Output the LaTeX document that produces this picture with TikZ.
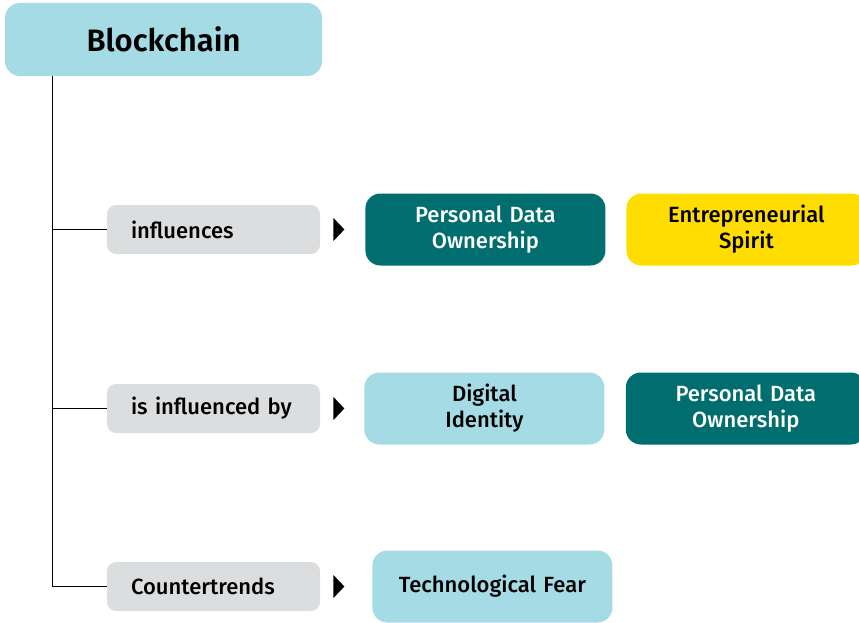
\documentclass[tikz,border=0pt]{standalone}
\usepackage{fontspec}
\setmainfont{Fira Sans}[UprightFont=* Medium, BoldFont=* SemiBold]
\usetikzlibrary{positioning}
\usetikzlibrary{shapes.geometric}

\definecolor{lightteal}{HTML}{A5DBE4}
\definecolor{darkteal}{HTML}{006D6E}
\definecolor{sunyellow}{HTML}{FFDD00}
\definecolor{labelgray}{HTML}{DCDDDF}

\begin{document}
\begin{tikzpicture}[x=1pt, y=-1pt, node distance = 21pt]
    \tikzstyle{root} = [rectangle, fill=lightteal, rounded corners=15pt,
    minimum width=317pt, minimum height=73pt, font=\fontsize{31}{34}\selectfont\bfseries]
    \tikzstyle{relation} = [rectangle, fill=labelgray, rounded corners=9pt,
    minimum width=213pt, minimum height=49pt, text width=165pt, align=left,
    inner xsep=24pt, font=\fontsize{22}{26}\selectfont]
    \tikzstyle{result} = [rectangle, rounded corners=15pt, minimum width=240pt,
    minimum height=72pt, text width=230pt, align=center,
    font=\fontsize{22}{26}\selectfont]
    \tikzstyle{pointer} = [isosceles triangle, isosceles triangle stretches,
    fill=black, inner sep=0pt, minimum width=23pt, minimum height=11pt]
    \tikzstyle{line} = [draw, line width=0.8pt]
    \useasboundingbox (0,0) rectangle (859,623);
    \node [root] (blockchain) at (163.5,39.5) {Blockchain};
    \node [relation] (influences) at (213.5,229.5) {influences};
    \node [relation] (influencedby) at (213.5,408.5) {is influenced by};
    \node [relation] (countertrends) at (213.5,586.5) {Countertrends};
    \node [pointer, right=13pt of influences] (arrowA) {};
    \node [pointer, right=13pt of influencedby] (arrowB) {};
    \node [pointer, right=13pt of countertrends] (arrowC) {};
    \node [result, fill=darkteal, text=white, right=45pt of influences] (ownershipA)
    {Personal Data\\Ownership};
    \node [result, fill=sunyellow, right of=ownershipA, node distance=261pt] (spirit)
    {Entrepreneurial\\Spirit};
    \node [result, fill=lightteal, right=44pt of influencedby] (identity)
    {Digital\\Identity};
    \node [result, fill=darkteal, text=white, right=21pt of identity] (ownershipB)
    {Personal Data\\Ownership};
    \node [result, fill=lightteal, right=52pt of countertrends] (fear)
    {Technological Fear};
    \coordinate (trunk) at (52,76);
    \path [line] (trunk) |- (countertrends);
    \path [line] (trunk |- influences) -- (influences);
    \path [line] (trunk |- influencedby) -- (influencedby);
\end{tikzpicture}
\end{document}
